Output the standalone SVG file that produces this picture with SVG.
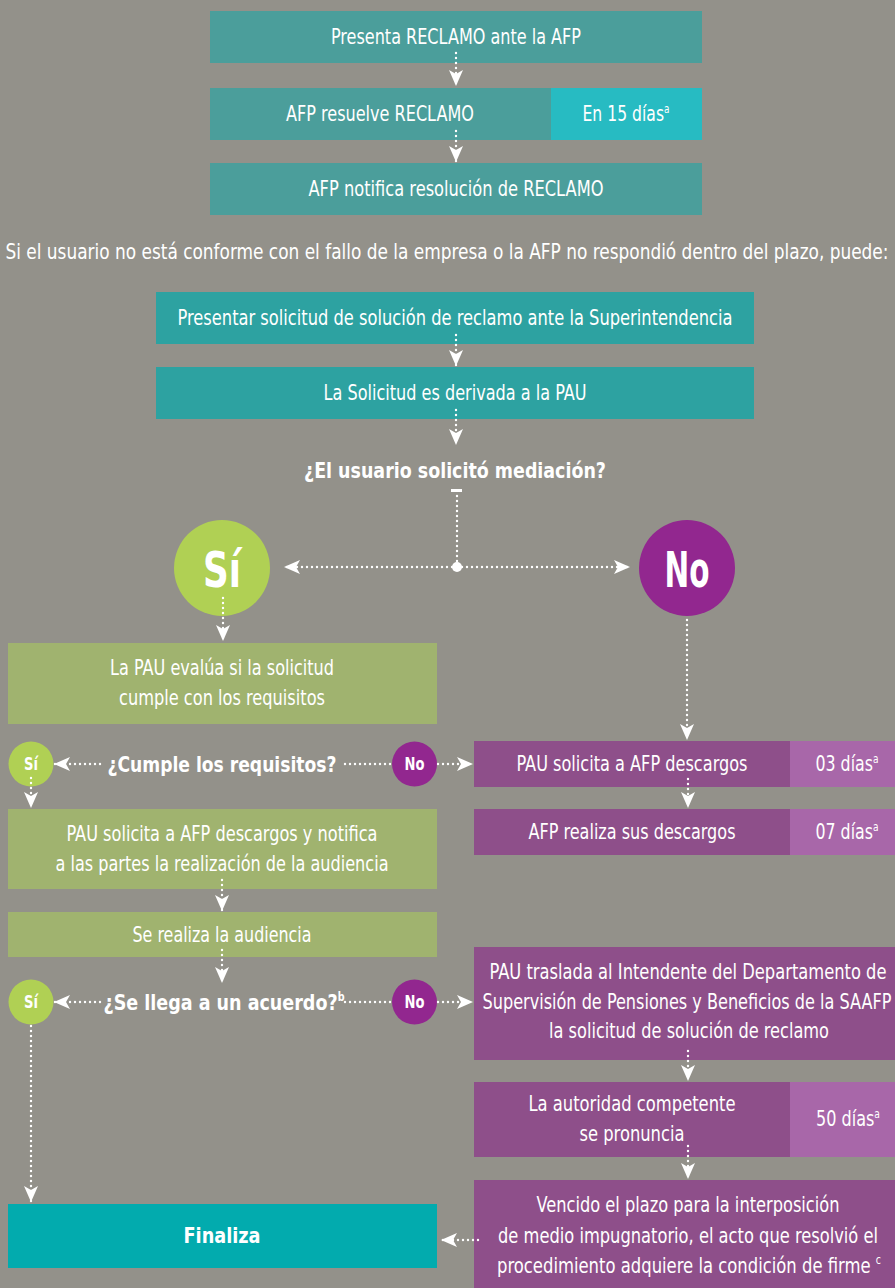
<svg xmlns="http://www.w3.org/2000/svg" width="895" height="1288" viewBox="0 0 895 1288">
<defs>
<marker id="ah" viewBox="0 0 16 14" refX="16" refY="7" markerWidth="16" markerHeight="14" markerUnits="userSpaceOnUse" orient="auto">
<path d="M0,0 L16,7 L0,14 L4,7 Z" fill="#fff"/>
</marker>
<style>
text{font-family:"Liberation Sans Narrow","DejaVu Sans Condensed","Liberation Sans",sans-serif;fill:#fff;text-anchor:middle;}
.t{font-size:21px;}
.b{font-size:22px;font-weight:bold;}
.s{font-size:17px;font-weight:bold;}
.big{font-size:50px;font-weight:bold;}
.sup{font-size:12px;}
.dl{fill:none;stroke:#fff;stroke-width:2.4;stroke-linecap:round;stroke-dasharray:0 5;}
.teal1{fill:#4B9E9B;}
.teal2{fill:#2DA2A1;}
.teal3{fill:#27BBC2;}
.green{fill:#A0B36F;}
.purple{fill:#8E4F8A;}
.lpurple{fill:#A867A9;}
.gc{fill:#B0D054;}
.pc{fill:#92278F;}
</style>
</defs>
<rect width="895" height="1288" fill="#93918A"/>

<g id="n1"><rect class="teal1" x="210" y="11" width="492" height="52"/><text class="t" x="456" y="44" textLength="250" lengthAdjust="spacingAndGlyphs">Presenta RECLAMO ante la AFP</text></g>
<g id="n2"><rect class="teal1" x="210" y="88" width="341" height="52"/><rect class="teal3" x="551" y="88" width="151" height="52"/><text class="t" x="380" y="121" textLength="188" lengthAdjust="spacingAndGlyphs">AFP resuelve RECLAMO</text><text class="t" x="626" y="121" textLength="87" lengthAdjust="spacingAndGlyphs">En 15 días<tspan class="sup" dy="-8">a</tspan></text></g>
<g id="n3"><rect class="teal1" x="210" y="163" width="492" height="52"/><text class="t" x="456" y="196" textLength="295" lengthAdjust="spacingAndGlyphs">AFP notifica resolución de RECLAMO</text></g>
<g id="intro"><text class="t" x="447" y="259" font-size="20" textLength="883" lengthAdjust="spacingAndGlyphs">Si el usuario no está conforme con el fallo de la empresa o la AFP no respondió dentro del plazo, puede:</text></g>
<g id="n4"><rect class="teal2" x="156" y="292" width="598" height="52"/><text class="t" x="455" y="325" textLength="555" lengthAdjust="spacingAndGlyphs">Presentar solicitud de solución de reclamo ante la Superintendencia</text></g>
<g id="n5"><rect class="teal2" x="156" y="367" width="598" height="52"/><text class="t" x="455" y="400" textLength="263" lengthAdjust="spacingAndGlyphs">La Solicitud es derivada a la PAU</text></g>
<g id="q1"><text class="b" x="455" y="478" textLength="302" lengthAdjust="spacingAndGlyphs">¿El usuario solicitó mediación?</text></g>
<g id="si1"><circle class="gc" cx="222" cy="568" r="48"/><text class="big" x="222" y="587" textLength="38" lengthAdjust="spacingAndGlyphs">Sí</text></g>
<g id="no1"><circle class="pc" cx="687" cy="568" r="48"/><text class="big" x="687" y="587" textLength="45" lengthAdjust="spacingAndGlyphs">No</text></g>
<g id="g1"><rect class="green" x="8" y="643" width="429" height="81"/><text class="t" x="222" y="675" textLength="224" lengthAdjust="spacingAndGlyphs">La PAU evalúa si la solicitud</text><text class="t" x="222" y="705" textLength="206" lengthAdjust="spacingAndGlyphs">cumple con los requisitos</text></g>
<g id="q2"><text class="b" x="222" y="772" textLength="229" lengthAdjust="spacingAndGlyphs">¿Cumple los requisitos?</text></g>
<g id="si2"><circle class="gc" cx="31" cy="764" r="22.5"/><text class="s" x="31" y="770" textLength="14" lengthAdjust="spacingAndGlyphs">Sí</text></g>
<g id="no2"><circle class="pc" cx="414.5" cy="764" r="22.5"/><text class="s" x="414.5" y="770" textLength="20" lengthAdjust="spacingAndGlyphs">No</text></g>
<g id="p1"><rect class="purple" x="474" y="741" width="316" height="46"/><rect class="lpurple" x="790" y="741" width="105" height="46"/><text class="t" x="632" y="771" textLength="231" lengthAdjust="spacingAndGlyphs">PAU solicita a AFP descargos</text><text class="t" x="847" y="771" textLength="63" lengthAdjust="spacingAndGlyphs">03 días<tspan class="sup" dy="-8">a</tspan></text></g>
<g id="p2"><rect class="purple" x="474" y="809" width="316" height="46"/><rect class="lpurple" x="790" y="809" width="105" height="46"/><text class="t" x="632" y="839" textLength="207" lengthAdjust="spacingAndGlyphs">AFP realiza sus descargos</text><text class="t" x="847" y="839" textLength="63" lengthAdjust="spacingAndGlyphs">07 días<tspan class="sup" dy="-8">a</tspan></text></g>
<g id="g2"><rect class="green" x="8" y="809" width="429" height="80"/><text class="t" x="222" y="841" textLength="311" lengthAdjust="spacingAndGlyphs">PAU solicita a AFP descargos y notifica</text><text class="t" x="222" y="871" textLength="333" lengthAdjust="spacingAndGlyphs">a las partes la realización de la audiencia</text></g>
<g id="g3"><rect class="green" x="8" y="912" width="429" height="45"/><text class="t" x="222" y="942" textLength="179" lengthAdjust="spacingAndGlyphs">Se realiza la audiencia</text></g>
<g id="q3"><text class="b" x="224" y="1010" textLength="241" lengthAdjust="spacingAndGlyphs">¿Se llega a un acuerdo?<tspan class="sup" dy="-9">b</tspan></text></g>
<g id="si3"><circle class="gc" cx="31" cy="1002" r="22.5"/><text class="s" x="31" y="1008" textLength="14" lengthAdjust="spacingAndGlyphs">Sí</text></g>
<g id="no3"><circle class="pc" cx="414.5" cy="1002" r="22.5"/><text class="s" x="414.5" y="1008" textLength="20" lengthAdjust="spacingAndGlyphs">No</text></g>
<g id="p3"><rect class="purple" x="474" y="947" width="421" height="113"/><text class="t" x="688" y="979" textLength="397" lengthAdjust="spacingAndGlyphs">PAU traslada al Intendente del Departamento de</text><text class="t" x="687" y="1009" textLength="409" lengthAdjust="spacingAndGlyphs">Supervisión de Pensiones y Beneficios de la SAAFP</text><text class="t" x="689" y="1038" textLength="280" lengthAdjust="spacingAndGlyphs">la solicitud de solución de reclamo</text></g>
<g id="p4"><rect class="purple" x="474" y="1082" width="316" height="75"/><rect class="lpurple" x="790" y="1082" width="105" height="75"/><text class="t" x="632" y="1111" textLength="207" lengthAdjust="spacingAndGlyphs">La autoridad competente</text><text class="t" x="632" y="1141" textLength="105" lengthAdjust="spacingAndGlyphs">se pronuncia</text><text class="t" x="848" y="1126" textLength="64" lengthAdjust="spacingAndGlyphs">50 días<tspan class="sup" dy="-8">a</tspan></text></g>
<g id="p5"><rect class="purple" x="474" y="1180" width="421" height="108"/><text class="t" x="688" y="1212" textLength="303" lengthAdjust="spacingAndGlyphs">Vencido el plazo para la interposición</text><text class="t" x="688" y="1243" textLength="380" lengthAdjust="spacingAndGlyphs">de medio impugnatorio, el acto que resolvió el</text><text class="t" x="689" y="1273" textLength="384" lengthAdjust="spacingAndGlyphs">procedimiento adquiere la condición de firme <tspan class="sup" dy="-9">c</tspan></text></g>
<g id="fin"><rect fill="#02ABAE" x="8" y="1204" width="429" height="64"/><text class="b" x="222" y="1243" textLength="77" lengthAdjust="spacingAndGlyphs">Finaliza</text></g>

<g id="connectors">
<path class="dl" d="M456,53 V86" marker-end="url(#ah)"/>
<path class="dl" d="M456,131 V162" marker-end="url(#ah)"/>
<path class="dl" d="M456,335 V366" marker-end="url(#ah)"/>
<path class="dl" d="M456,410 V445" marker-end="url(#ah)"/>
<rect x="451" y="489" width="11" height="3" fill="#fff"/>
<path class="dl" d="M457,496 V567"/>
<circle cx="457" cy="567" r="5" fill="#fff"/>
<path class="dl" d="M452,567 H284" marker-end="url(#ah)"/>
<path class="dl" d="M462,567 H630" marker-end="url(#ah)"/>
<path class="dl" d="M223,598 V641" marker-end="url(#ah)"/>
<path class="dl" d="M687,620 V740" marker-end="url(#ah)"/>
<path class="dl" d="M100,764 H54" marker-end="url(#ah)"/>
<path class="dl" d="M345,764 H392"/>
<path class="dl" d="M438,764 H473" marker-end="url(#ah)"/>
<path class="dl" d="M31,778 V808" marker-end="url(#ah)"/>
<path class="dl" d="M688,779 V808" marker-end="url(#ah)"/>
<path class="dl" d="M222,880 V911" marker-end="url(#ah)"/>
<path class="dl" d="M222,950 V983" marker-end="url(#ah)"/>
<path class="dl" d="M100,1002 H54" marker-end="url(#ah)"/>
<path class="dl" d="M345,1002 H392"/>
<path class="dl" d="M438,1002 H473" marker-end="url(#ah)"/>
<path class="dl" d="M31,1026 V1202" marker-end="url(#ah)"/>
<path class="dl" d="M688,1051 V1081" marker-end="url(#ah)"/>
<path class="dl" d="M688,1146 V1179" marker-end="url(#ah)"/>
<path class="dl" d="M478,1240 H441" marker-end="url(#ah)"/>
</g>
</svg>
